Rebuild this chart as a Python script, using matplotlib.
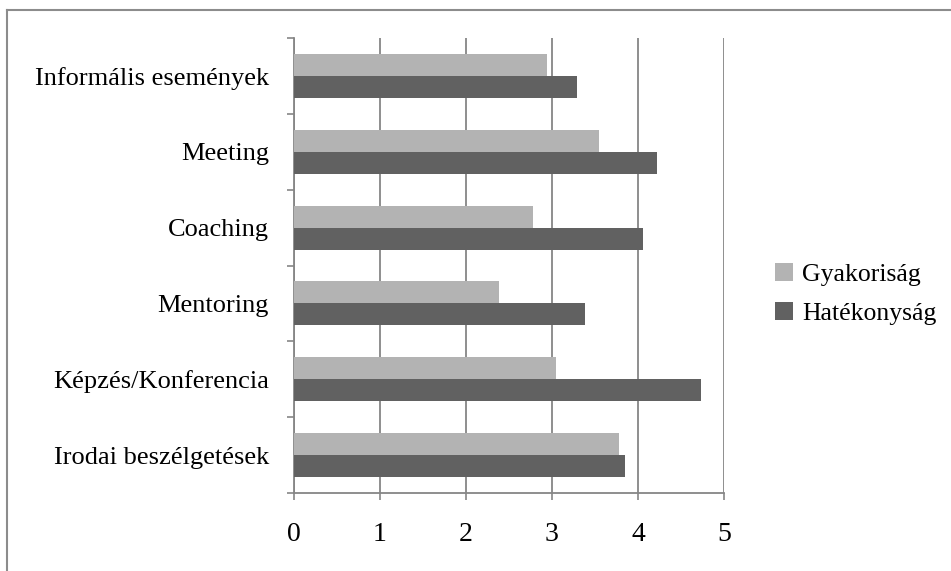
import numpy as np
import matplotlib.pyplot as plt
from matplotlib.lines import Line2D

# Categories listed bottom to top
categories = ["Irodai beszélgetések", "Képzés/Konferencia", "Mentoring",
              "Coaching", "Meeting", "Informális események"]
gyakorisag = [3.78, 3.05, 2.38, 2.78, 3.55, 2.94]
hatekonysag = [3.85, 4.73, 3.38, 4.06, 4.22, 3.29]
x_ticks = [0, 1, 2, 3, 4, 5]

plt.rcParams['font.family'] = ['Liberation Serif', 'DejaVu Serif']
grey = "#868686"

fig = plt.figure(figsize=(9.51, 5.71), dpi=100)
ax = fig.add_axes([294 / 951, 78 / 571, 430 / 951, 455 / 571])

y = np.arange(len(categories))
h = 0.29
ax.barh(y + h / 2, gyakorisag, height=h, color="#b3b3b3", label="Gyakoriság", zorder=3)
ax.barh(y - h / 2, hatekonysag, height=h, color="#616161", label="Hatékonyság", zorder=3)

ax.set_xlim(0, 5)
ax.set_ylim(-0.5, len(categories) - 0.5)

# x axis
ax.set_xticks(x_ticks)
ax.set_xticklabels([str(t) for t in x_ticks])
ax.tick_params(axis="x", direction="out", length=5, width=1.2, color=grey,
               pad=16, labelsize=20)
ax.grid(axis="x", color=grey, linewidth=1.3, zorder=0)

# y axis: ticks between categories, labels centred
ax.set_yticks(np.arange(-0.5, len(categories), 1.0))
ax.set_yticklabels([])
ax.set_yticks(y, minor=True)
ax.set_yticklabels(categories, minor=True)
ax.tick_params(axis="y", which="major", direction="out", length=5, width=1.2, color=grey)
ax.tick_params(axis="y", which="minor", length=0, pad=18, labelsize=19)

for side in ["top", "right"]:
    ax.spines[side].set_visible(False)
for side in ["left", "bottom"]:
    ax.spines[side].set_color(grey)
    ax.spines[side].set_linewidth(1.3)

fig.legend(loc="center left", bbox_to_anchor=(752 / 951, 1 - 294 / 571),
           frameon=False, fontsize=18.5, handlelength=0.7, handleheight=0.7,
           handletextpad=0.35, labelspacing=0.6)

# outer chart frame (top and left edges)
fig.add_artist(Line2D([7 / 951, 1], [1 - 10 / 571, 1 - 10 / 571], color="#8c8c8c", linewidth=1.5))
fig.add_artist(Line2D([7 / 951, 7 / 951], [0, 1 - 10 / 571], color="#8c8c8c", linewidth=1.5))

fig.savefig("out.png", dpi=100)
